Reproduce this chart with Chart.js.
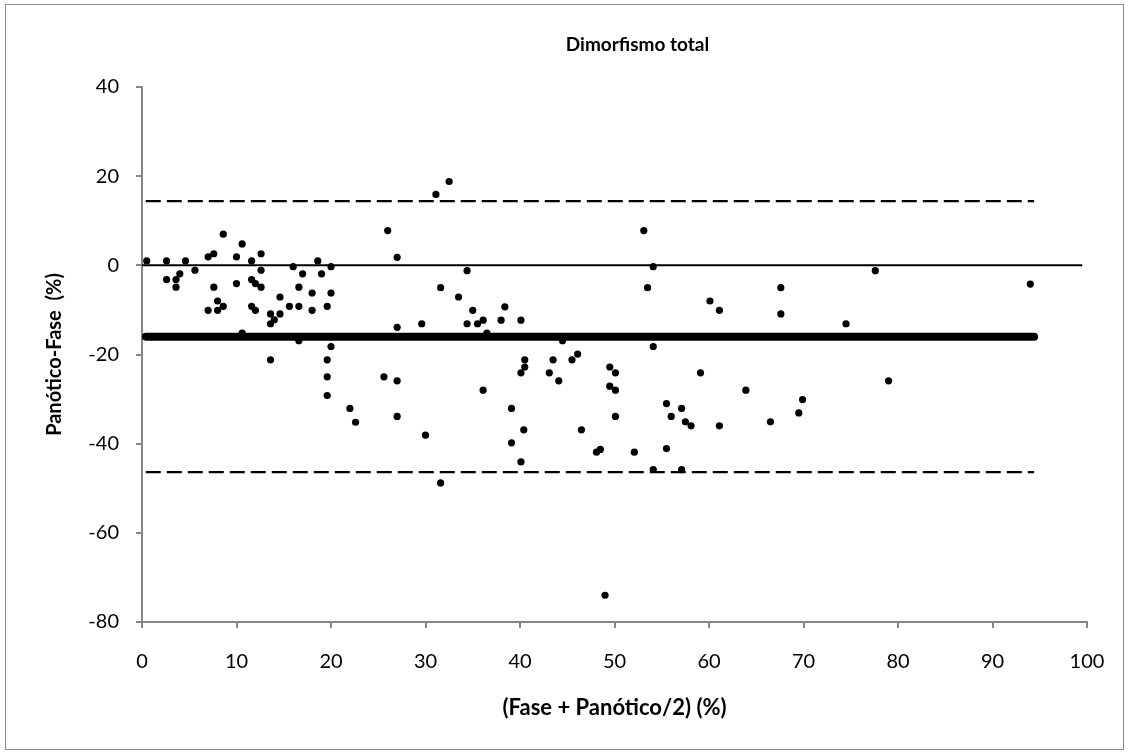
<!DOCTYPE html>
<html>
<head>
<meta charset="utf-8">
<script src="https://cdn.jsdelivr.net/npm/chart.js@4"></script>
<style>
  html, body { margin: 0; padding: 0; background: #fff; }
  #wrap { position: relative; width: 1129px; height: 755px; }
  #frame { position: absolute; left: 5px; top: 4px; width: 1117px; height: 744px; border: 1.5px solid #8c8c8c; pointer-events: none; }
  canvas { position: absolute; left: 0; top: 0; }
</style>
</head>
<body>
<div id="wrap">
  <canvas id="chart" width="1129" height="755"></canvas>
  <div id="frame"></div>
</div>
<script>
'use strict';

// Bland-Altman: mean of methods vs difference
const xValues = [
  0.5, 2.6, 4.6, 2.6, 3.6, 4.0, 3.6, 5.6, 7.0, 7.6, 8.6, 7.6, 7.0, 8.0, 8.0, 8.6,
  10.0, 10.6, 10.0, 11.6, 12.6, 12.6, 11.6, 12.0, 12.6, 11.6, 12.0, 10.6, 13.6, 13.6,
  14.0, 14.6, 14.6, 13.6, 15.6, 16.0, 16.6, 17.0, 16.6, 16.6, 18.0, 18.0, 18.6, 19.0,
  19.6, 20.0, 20.0, 20.0, 19.6, 19.6, 19.6, 22.0, 22.6,
  25.6, 26.0, 27.0, 27.0, 27.0, 29.6, 31.1, 32.5, 31.6, 33.5, 34.4, 34.4, 35.0, 35.5,
  36.1, 36.5, 36.1, 38.0, 38.4, 40.1, 39.1, 44.5, 40.5, 40.5, 40.1, 43.5, 43.1, 44.1,
  45.5, 46.1, 49.5, 50.1, 49.5, 50.1,
  53.1, 54.1, 53.5, 54.1, 60.1, 61.1, 59.1, 67.6, 67.6, 74.5, 63.9, 55.5, 57.1, 69.9,
  77.6, 94.0, 79.0,
  27.0, 30.0, 39.1, 40.4, 40.1, 31.6, 46.5, 48.1, 48.5, 50.1, 52.1, 54.1, 55.5, 56.0,
  57.5, 58.1, 57.1, 61.1, 66.5, 69.5, 49.0
];
const yValues = [
  1.0, 1.0, 1.0, -3.2, -3.2, -1.9, -4.9, -1.1, 1.9, 2.6, 7.0, -4.9, -10.1, -8.0, -10.1, -9.2,
  1.9, 4.8, -4.1, 1.0, 2.6, -1.1, -3.2, -4.1, -4.9, -9.2, -10.1, -15.2, -10.9, -13.1,
  -12.2, -10.9, -7.1, -21.2, -9.2, -0.3, -4.9, -1.9, -9.2, -16.9, -6.2, -10.1, 1.0, -1.9,
  -9.2, -0.3, -6.2, -18.2, -21.2, -25.0, -29.2, -32.1, -35.2,
  -25.0, 7.8, 1.8, -13.9, -25.9, -13.1, 15.9, 18.8, -5.0, -7.1, -1.2, -13.1, -10.1, -13.1,
  -12.3, -15.2, -28.0, -12.3, -9.3, -12.3, -32.1, -16.9, -21.2, -22.8, -24.1, -21.2, -24.1, -25.9,
  -21.2, -19.9, -22.8, -24.1, -27.1, -28.0,
  7.8, -0.3, -5.0, -18.2, -8.0, -10.1, -24.1, -5.0, -10.9, -13.1, -28.0, -31.0, -32.1, -30.1,
  -1.2, -4.2, -25.9,
  -33.9, -38.1, -39.8, -36.9, -44.1, -48.8, -36.9, -41.9, -41.3, -33.9, -41.9, -45.8, -41.1, -33.9,
  -35.1, -36.0, -45.8, -36.0, -35.1, -33.1, -74.0
];

const meanDiff = -16.0;
const upperLimit = 14.4;
const lowerLimit = -46.4;
const limitsRange = [0.4, 94.4];
const zeroRange = [0, 99.5];

const xTicks = [0, 10, 20, 30, 40, 50, 60, 70, 80, 90, 100];
const yTicks = [-80, -60, -40, -20, 0, 20, 40];

const chartTitle = 'Dimorfismo total';
const FONT = 'Lato, "Open Sans", sans-serif';
const AXIS_GREY = '#868686';

const points = xValues.map((x, i) => ({ x, y: yValues[i] }));
const hLine = (y, range) => range.map((x) => ({ x, y }));

// title sits a little right of the plot centre, as in the source sheet
const titlePlugin = {
  id: 'sheetTitle',
  afterDraw(chart) {
    const { ctx, chartArea } = chart;
    ctx.save();
    ctx.font = `bold 19px ${FONT}`;
    ctx.fillStyle = '#000';
    ctx.textAlign = 'center';
    ctx.textBaseline = 'middle';
    ctx.fillText(chartTitle, (chartArea.left + chartArea.right) / 2 + 23, 45);
    ctx.restore();
  },
};

new Chart(document.getElementById('chart'), {
  type: 'scatter',
  data: {
    datasets: [
      {
        type: 'line',
        data: hLine(meanDiff, limitsRange),
        borderColor: '#000',
        borderWidth: 8,
        borderCapStyle: 'round',
        pointRadius: 0,
        order: 3,
      },
      {
        type: 'line',
        data: hLine(0, zeroRange),
        borderColor: '#000',
        borderWidth: 2,
        pointRadius: 0,
        order: 3,
      },
      {
        type: 'line',
        data: hLine(upperLimit, limitsRange),
        borderColor: '#000',
        borderWidth: 2.3,
        borderDash: [15, 6],
        pointRadius: 0,
        order: 3,
      },
      {
        type: 'line',
        data: hLine(lowerLimit, limitsRange),
        borderColor: '#000',
        borderWidth: 2.3,
        borderDash: [15, 6],
        pointRadius: 0,
        order: 3,
      },
      {
        data: points,
        backgroundColor: '#000',
        borderWidth: 0,
        pointRadius: 3.6,
        order: 1,
      },
    ],
  },
  options: {
    responsive: false,
    animation: false,
    layout: { padding: { left: 0, right: 42, top: 87, bottom: 5 } },
    plugins: {
      legend: { display: false },
      tooltip: { enabled: false },
      title: { display: false },
    },
    scales: {
      x: {
        type: 'linear',
        min: 0,
        max: 100,
        afterBuildTicks: (s) => { s.ticks = xTicks.map((v) => ({ value: v })); },
        afterFit: (s) => { s.height = 128; },
        grid: { display: true, drawOnChartArea: false, drawTicks: true, tickLength: 6, color: AXIS_GREY, lineWidth: 2 },
        border: { color: AXIS_GREY, width: 2 },
        ticks: { color: '#000', padding: 22, font: { family: FONT, size: 20 }, maxRotation: 0 },
        title: {
          display: true,
          text: '(Fase + Panótico/2) (%)',
          color: '#000',
          font: { family: FONT, size: 22, weight: 'bold', lineHeight: 1.2 },
          padding: { top: 0, bottom: 29 },
        },
      },
      y: {
        type: 'linear',
        min: -80,
        max: 40,
        afterBuildTicks: (s) => { s.ticks = yTicks.map((v) => ({ value: v })); },
        afterFit: (s) => { s.width = 142; },
        grid: { display: true, drawOnChartArea: false, drawTicks: true, tickLength: 6, color: AXIS_GREY, lineWidth: 2 },
        border: { color: AXIS_GREY, width: 2 },
        ticks: { color: '#000', padding: 17, font: { family: FONT, size: 20 } },
        title: {
          display: true,
          text: 'Panótico-Fase  (%)',
          color: '#000',
          font: { family: FONT, size: 20, weight: 'bold', lineHeight: 1.2 },
          padding: { top: 43, bottom: 0 },
        },
      },
    },
  },
  plugins: [titlePlugin],
});
</script>
</body>
</html>
